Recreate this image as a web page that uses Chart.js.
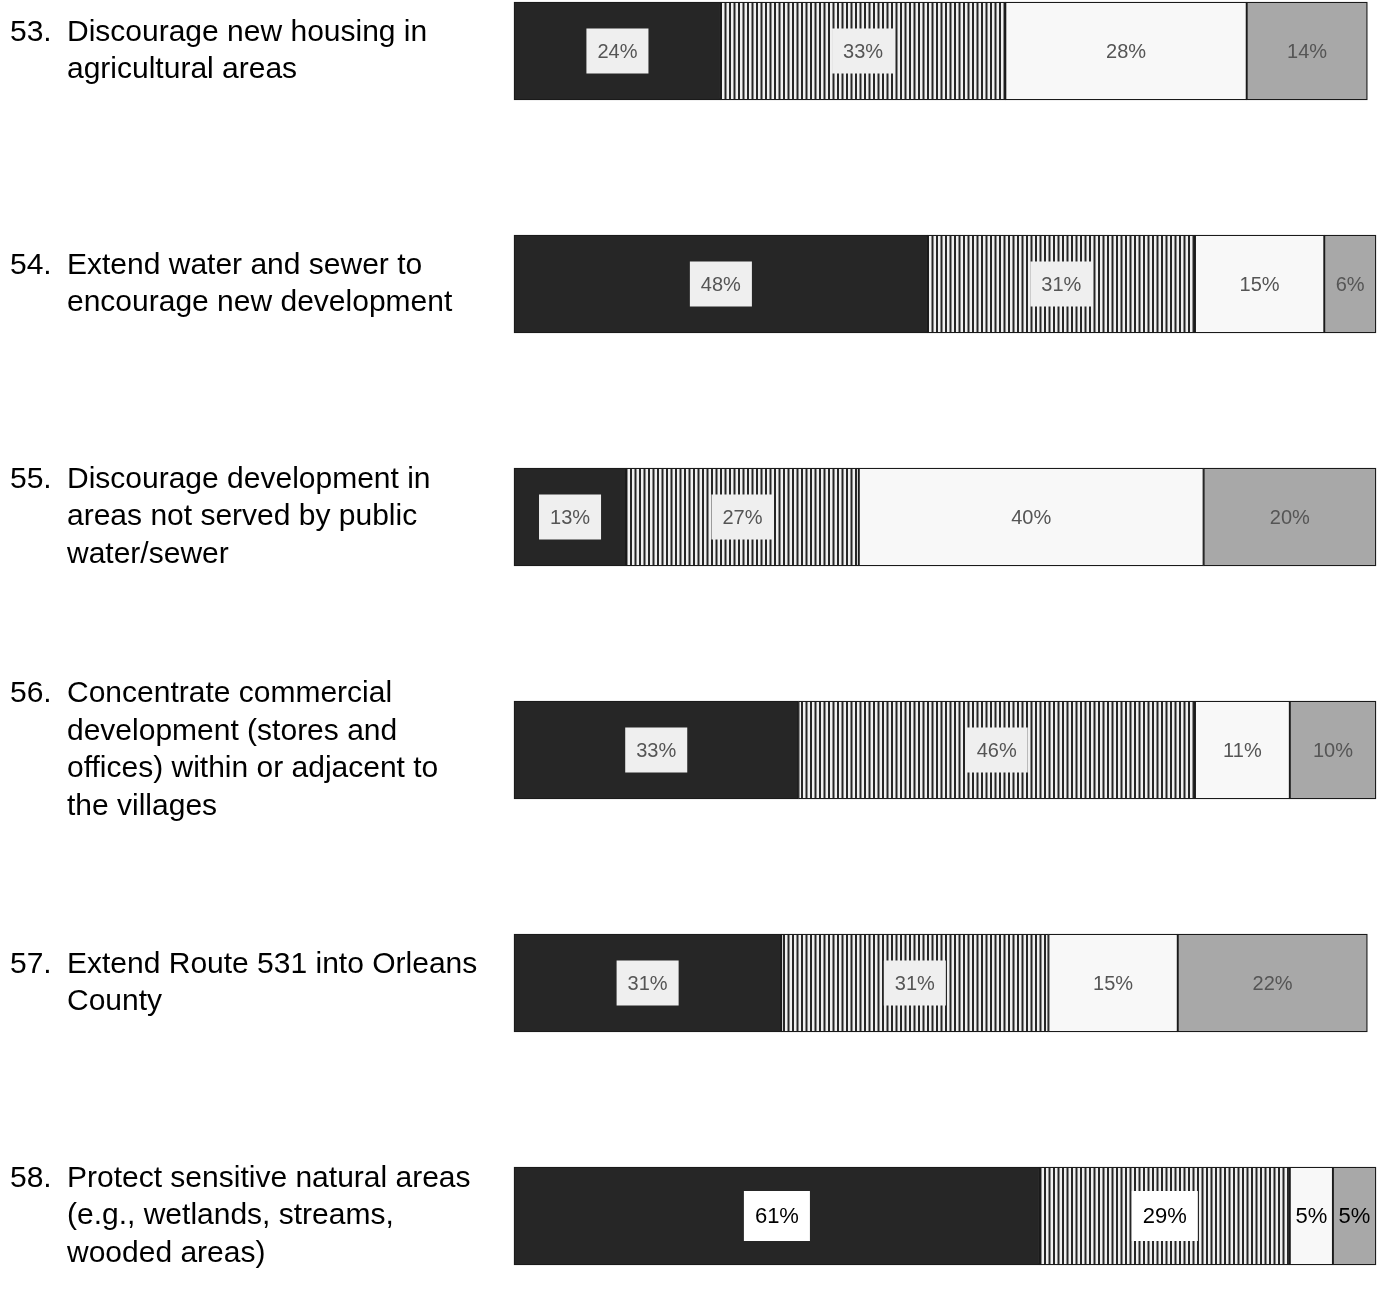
<!DOCTYPE html>
<html><head><meta charset="utf-8">
<script src="https://cdn.jsdelivr.net/npm/chart.js@4/dist/chart.umd.min.js"></script>
<style>html,body{margin:0;padding:0;background:#fff;} #wrap{width:1377px;height:1293px;position:relative;}</style>
</head><body><div id="wrap"><canvas id="c" width="1377" height="1293"></canvas></div>
<script>
// ---- data ----
const questionNumbers = ['53.', '54.', '55.', '56.', '57.', '58.'];
const questionLines = [
  ['Discourage new housing in', 'agricultural areas'],
  ['Extend water and sewer to', 'encourage new development'],
  ['Discourage development in', 'areas not served by public', 'water/sewer'],
  ['Concentrate commercial', 'development (stores and', 'offices) within or adjacent to', 'the villages'],
  ['Extend Route 531 into Orleans', 'County'],
  ['Protect sensitive natural areas', '(e.g., wetlands, streams,', 'wooded areas)']
];
const seriesNames = ['Strongly agree', 'Agree', 'Disagree', 'Strongly disagree'];
const stronglyAgree    = [24, 48, 13, 33, 31, 61];
const agree            = [33, 31, 27, 46, 31, 29];
const disagree         = [28, 15, 40, 11, 15, 5];
const stronglyDisagree = [14, 6, 20, 10, 22, 5];

// ---- styles ----
const canvas = document.getElementById('c');
const mainCtx = canvas.getContext('2d');
function stripePattern() {
  const c = document.createElement('canvas');
  c.width = 9; c.height = 4;
  const g = c.getContext('2d');
  g.fillStyle = '#f0f0f0'; g.fillRect(0, 0, 9, 4);
  g.fillStyle = '#262626'; g.fillRect(0, 0, 2, 4); g.fillRect(4.5, 0, 2, 4);
  return mainCtx.createPattern(c, 'repeat');
}
const FONT = '"Liberation Sans", Arial, Helvetica, sans-serif';
const emphasizedRow = questionNumbers.length - 1;

const valueLabels = {
  id: 'valueLabels',
  afterDatasetsDraw(chart) {
    const ctx = chart.ctx;
    ctx.save();
    chart.data.datasets.forEach((ds, di) => {
      const meta = chart.getDatasetMeta(di);
      meta.data.forEach((bar, i) => {
        const v = ds.data[i];
        const cx = (bar.x + bar.base) / 2, cy = bar.y;
        const strong = i === emphasizedRow;
        ctx.font = (strong ? '22px ' : '20px ') + FONT;
        const txt = v + '%';
        if (ds.boxed) {
          const w = ctx.measureText(txt).width + 22, h = strong ? 50 : 45;
          ctx.fillStyle = strong ? '#ffffff' : '#efefef';
          ctx.fillRect(cx - w / 2, cy - h / 2, w, h);
        }
        ctx.fillStyle = strong ? '#000' : '#555';
        ctx.textAlign = 'center'; ctx.textBaseline = 'middle';
        ctx.fillText(txt, cx, cy + 1);
      });
    });
    ctx.restore();
  }
};

const questionLabels = {
  id: 'questionLabels',
  afterDraw(chart) {
    const ctx = chart.ctx, y = chart.scales.y;
    ctx.save();
    ctx.font = '30px ' + FONT;
    ctx.fillStyle = '#000';
    ctx.textAlign = 'left'; ctx.textBaseline = 'middle';
    const lh = 37.5;
    questionNumbers.forEach((n, i) => {
      const lines = questionLines[i];
      const cy = y.getPixelForValue(i);
      const top = cy - (lines.length - 1) * lh / 2;
      ctx.fillText(n, 10, top);
      lines.forEach((l, k) => ctx.fillText(l, 67, top + k * lh));
    });
    ctx.restore();
  }
};

const common = { borderColor: '#1a1a1a', borderWidth: 1.3, borderSkipped: false, barThickness: 98, clip: false };
new Chart(canvas, {
  type: 'bar',
  data: {
    labels: questionNumbers,
    datasets: [
      Object.assign({ label: seriesNames[0], data: stronglyAgree, backgroundColor: '#262626', boxed: true }, common),
      Object.assign({ label: seriesNames[1], data: agree, backgroundColor: stripePattern(), boxed: true }, common),
      Object.assign({ label: seriesNames[2], data: disagree, backgroundColor: '#f8f8f8', boxed: false }, common),
      Object.assign({ label: seriesNames[3], data: stronglyDisagree, backgroundColor: '#a8a8a8', boxed: false }, common)
    ]
  },
  options: {
    indexAxis: 'y',
    responsive: false,
    animation: false,
    layout: { padding: { left: 514, right: 1, top: 51, bottom: 77 } },
    scales: {
      x: { stacked: true, min: 0, max: 100, display: false },
      y: { stacked: true, display: false, offset: false }
    },
    plugins: { legend: { display: false }, tooltip: { enabled: false } }
  },
  plugins: [valueLabels, questionLabels]
});
</script>
</body></html>
